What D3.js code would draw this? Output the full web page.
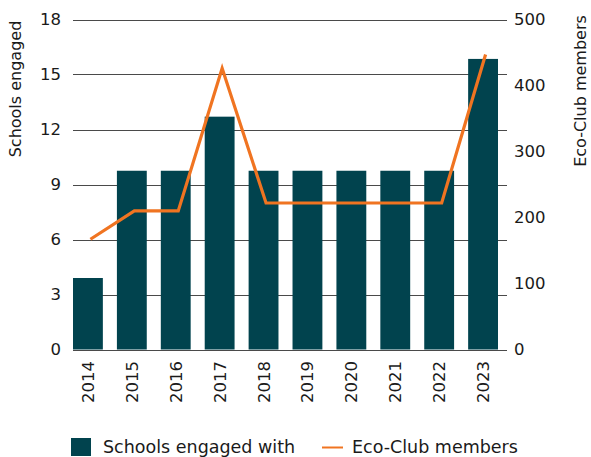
<!DOCTYPE html>
<html>
<head>
<meta charset="utf-8">
<script src="https://cdn.jsdelivr.net/npm/d3@7"></script>
<style>
  body { margin: 0; background: #fff; }
  text { font-family: "DejaVu Sans", sans-serif; fill: #1a1a1a; }
</style>
</head>
<body>
<div id="chart"></div>
<script>
/* DATA */
const years = ["2014", "2015", "2016", "2017", "2018", "2019", "2020", "2021", "2022", "2023"];
const schools = [3.9, 9.75, 9.75, 12.7, 9.75, 9.75, 9.75, 9.75, 9.75, 15.85];
const members = [167, 210, 210, 426, 222, 222, 222, 222, 222, 447];
const leftTicks = [0, 3, 6, 9, 12, 15, 18];
const rightTicks = [0, 100, 200, 300, 400, 500];

const W = 591, H = 457;
const margin = {top: 19.5, right: 84, bottom: 107.5, left: 73};
const barColor = "#01434e", lineColor = "#f07421";

const svg = d3.select("#chart").append("svg")
  .attr("width", W).attr("height", H);

const x = d3.scaleBand()
  .domain(years)
  .range([margin.left, 498])
  .paddingInner(0.32)
  .paddingOuter(0);

const y = d3.scaleLinear().domain([0, 18]).range([H - margin.bottom, margin.top]);
const y2 = d3.scaleLinear().domain([0, 500]).range([H - margin.bottom, margin.top]);

// gridlines
svg.append("g")
  .selectAll("line")
  .data(leftTicks)
  .join("line")
  .attr("x1", margin.left).attr("x2", 507)
  .attr("y1", d => Math.round(y(d)) + 0.5)
  .attr("y2", d => Math.round(y(d)) + 0.5)
  .attr("stroke", "#4a4a4a")
  .attr("stroke-width", 1);

// left axis labels
svg.append("g")
  .selectAll("text")
  .data(leftTicks)
  .join("text")
  .attr("x", 61)
  .attr("y", d => y(d))
  .attr("dy", "0.36em")
  .attr("text-anchor", "end")
  .attr("font-size", 16.5)
  .text(d => d);

// right axis labels
svg.append("g")
  .selectAll("text")
  .data(rightTicks)
  .join("text")
  .attr("x", 514)
  .attr("y", d => y2(d))
  .attr("dy", "0.36em")
  .attr("text-anchor", "start")
  .attr("font-size", 16.5)
  .text(d => d);

// bars
svg.append("g")
  .selectAll("rect")
  .data(years)
  .join("rect")
  .attr("x", d => x(d))
  .attr("width", x.bandwidth())
  .attr("y", (d, i) => y(schools[i]))
  .attr("height", (d, i) => y(0) - y(schools[i]))
  .attr("fill", barColor);

// line
const line = d3.line()
  .x((d, i) => x(years[i]) + x.bandwidth() / 2 + 2.5)
  .y(d => y2(d));

svg.append("path")
  .datum(members)
  .attr("d", line)
  .attr("fill", "none")
  .attr("stroke", lineColor)
  .attr("stroke-width", 3.2);

// x labels
svg.append("g")
  .selectAll("text")
  .data(years)
  .join("text")
  .attr("transform", d => `translate(${x(d) + x.bandwidth() / 2 + 6},361) rotate(-90)`)
  .attr("text-anchor", "end")
  .attr("font-size", 16.5)
  .text(d => d);

// axis titles
svg.append("text")
  .attr("transform", "translate(21,89) rotate(-90)")
  .attr("text-anchor", "middle")
  .attr("font-size", 16)
  .text("Schools engaged");

svg.append("text")
  .attr("transform", "translate(586,91) rotate(-90)")
  .attr("text-anchor", "middle")
  .attr("font-size", 16)
  .text("Eco-Club members");

// legend
const legend = svg.append("g");
legend.append("rect")
  .attr("x", 71).attr("y", 438)
  .attr("width", 20).attr("height", 18)
  .attr("fill", barColor);
legend.append("text")
  .attr("x", 103).attr("y", 453)
  .attr("font-size", 17.5)
  .text("Schools engaged with");
legend.append("line")
  .attr("x1", 322).attr("x2", 343)
  .attr("y1", 447.5).attr("y2", 447.5)
  .attr("stroke", lineColor)
  .attr("stroke-width", 2);
legend.append("text")
  .attr("x", 352).attr("y", 453)
  .attr("font-size", 17.5)
  .text("Eco-Club members");
</script>
</body>
</html>
